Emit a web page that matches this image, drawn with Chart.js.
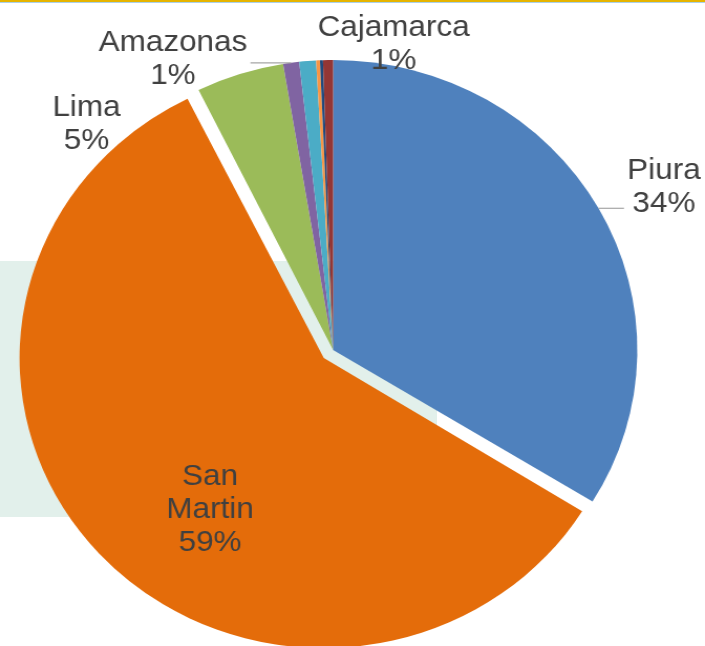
<!DOCTYPE html>
<html>
<head>
<meta charset="utf-8">
<script src="https://cdn.jsdelivr.net/npm/chart.js@4/dist/chart.umd.min.js"></script>
<style>
  html, body { margin: 0; padding: 0; background: #fff; }
  #wrap { position: relative; width: 705px; height: 646px; overflow: hidden; }
  #band { position: absolute; left: 0; top: 261px; width: 437px; height: 256px; background: #E2F0EB; }
  #topline { position: absolute; left: 0; top: 0; width: 705px; height: 2px; background: #E6B400; border-bottom: 1px solid #A9D0EA; }
  #regionChart { position: absolute; left: 0; top: 0; }
</style>
</head>
<body>
<div id="wrap">
  <div id="band"></div>
  <!-- the original picture is a little wider than tall, so the canvas is stretched -->
  <canvas id="regionChart" width="672" height="646" style="width:705px;height:646px"></canvas>
  <div id="topline"></div>
</div>
<script>
    // Regions and their share (%)
    var regions = ['Piura', 'San Martin', 'Lima', 'Amazonas', 'Cajamarca', '', '', ''];
    var shares = [33.75, 58.96, 4.66, 0.85, 0.89, 0.20, 0.16, 0.53];

    var sliceColors = ['#4F81BD', '#E46C0A', '#9BBB59', '#8064A2', '#4BACC6', '#F79646', '#1F497D', '#943634'];
    var explode = [0, 48, 0, 0, 0, 0, 0, 0];

    // label placement: shift from the slice middle (deg) and distance (x radius)
    var labelShown = [true, true, true, true, true, false, false, false];
    var labelInside = [false, true, false, false, false, false, false, false];
    var labelShift = [2, -11.4, -28.3, -19.8, 15.5, 0, 0, 0];
    var labelDist = [1.223, 0.684, 1.124, 1.131, 1.072, 0, 0, 0];
    var labelLeader = [true, false, false, true, false, false, false, false];

    var sliceLabels = {
        id: 'sliceLabels',
        beforeDatasetsDraw: function (chart) {
            // Chart.js grows an offset slice a bit, keep it at the same radius
            chart.getDatasetMeta(0).data.forEach(function (arc) {
                arc.outerRadius -= (arc.options.offset || 0) / 4;
            });
        },
        afterDatasetsDraw: function (chart) {
            var meta = chart.getDatasetMeta(0);
            meta.data.forEach(function (arc) {
                arc.outerRadius += (arc.options.offset || 0) / 4;
            });

            var ctx = chart.ctx;
            var total = shares.reduce(function (a, b) { return a + b; }, 0);
            var lh = 33;
            ctx.save();
            ctx.font = '30px "Liberation Sans", Arial, sans-serif';
            ctx.textAlign = 'center';
            ctx.textBaseline = 'middle';

            meta.data.forEach(function (arc, i) {
                if (!labelShown[i]) return;
                var mid = (arc.startAngle + arc.endAngle) / 2;
                var a = mid + labelShift[i] * Math.PI / 180;
                var x = arc.x + Math.cos(a) * arc.outerRadius * labelDist[i];
                var y = arc.y + Math.sin(a) * arc.outerRadius * labelDist[i];
                var pct = Math.round(shares[i] / total * 100) + '%';
                var lines = (labelInside[i] ? regions[i].split(' ') : [regions[i]]).concat(pct);
                var top = y - (lines.length - 1) * lh / 2;
                var w = Math.max.apply(null, lines.map(function (t) { return ctx.measureText(t).width; }));

                if (labelLeader[i]) {
                    var ax = arc.x + Math.cos(mid) * arc.outerRadius;
                    var ay = arc.y + Math.sin(mid) * arc.outerRadius;
                    var sx = ax < x ? x - w / 2 - 3 : x + w / 2 + 3;
                    var half = lines.length * lh / 2;
                    var sy = Math.min(Math.max(ay, y - half), y + half);
                    ctx.strokeStyle = '#A6A6A6';
                    ctx.lineWidth = 1.2;
                    ctx.beginPath();
                    ctx.moveTo(sx, sy);
                    ctx.lineTo(ax, ay);
                    ctx.stroke();
                }

                ctx.fillStyle = '#404040';
                lines.forEach(function (t, j) {
                    ctx.fillText(t, x, top + j * lh);
                });
            });
            ctx.restore();
        }
    };

    var ctx = document.getElementById('regionChart').getContext('2d');

    var regionChart = new Chart(ctx, {
        type: 'pie',
        data: {
            labels: regions,
            datasets: [{
                data: shares,
                backgroundColor: sliceColors,
                borderWidth: 0,
                offset: explode
            }]
        },
        options: {
            responsive: false,
            animation: false,
            radius: 290,
            layout: {
                padding: { left: 0, right: 37, top: 54, bottom: 0 }
            },
            plugins: {
                legend: { display: false },
                tooltip: { enabled: false }
            }
        },
        plugins: [sliceLabels]
    });
</script>
</body>
</html>
